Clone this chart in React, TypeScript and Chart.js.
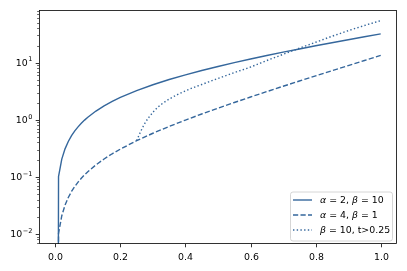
import React, { useEffect, useRef } from "react";
import { Chart, registerables } from "chart.js";

Chart.register(...registerables);

// ---- data ----
const tValues = [0, 0.01, 0.02, 0.03, 0.04, 0.05, 0.06, 0.07, 0.08, 0.09, 0.1, 0.125, 0.15, 0.175, 0.2, 0.25, 0.3, 0.35, 0.4, 0.45, 0.5, 0.55, 0.6, 0.65, 0.7, 0.75, 0.8, 0.85, 0.9, 0.95, 1.0];
// first sample is 0 (clipped on the log axis -> vertical drop)
const solidValues = [1e-30, 0.101, 0.204, 0.309, 0.416, 0.526, 0.637, 0.751, 0.868, 0.986, 1.107, 1.42, 1.749, 2.095, 2.459, 3.244, 4.111, 5.069, 6.128, 7.298, 8.591, 10.02, 11.6, 13.35, 15.28, 17.41, 19.76, 22.37, 25.25, 28.43, 31.95];
const dashedValues = [1e-30, 0.0102, 0.0208, 0.0319, 0.0434, 0.0554, 0.0678, 0.0808, 0.0943, 0.1083, 0.123, 0.162, 0.2055, 0.2534, 0.306, 0.43, 0.58, 0.764, 0.988, 1.262, 1.597, 2.006, 2.506, 3.116, 3.861, 4.771, 5.883, 7.241, 8.9, 10.93, 13.4];
const tDotted = [0.25, 0.26, 0.275, 0.3, 0.325, 0.35, 0.375, 0.4, 0.425, 0.45, 0.5, 0.55, 0.6, 0.65, 0.7, 0.75, 0.8, 0.85, 0.9, 0.95, 1.0];
const dottedValues = [0.43, 0.58, 0.86, 1.35, 1.85, 2.3, 2.75, 3.2, 3.68, 4.15, 5.3, 6.7, 8.4, 10.9, 14.0, 17.9, 22.8, 29.0, 36.3, 44.8, 54.6];
const seriesLabels = ["α = 2, β = 10", "α = 4, β = 1", "β = 10, t>0.25"];
const xTickValues = [0, 0.2, 0.4, 0.6, 0.8, 1.0];
const xTickLabels = ["0.0", "0.2", "0.4", "0.6", "0.8", "1.0"];
const yMajorExponents = [-2, -1, 0, 1];
const X_MIN = -0.05;
const X_MAX = 1.05;
const Y_MIN = 0.00665;
const Y_MAX = 83.8;

const LINE_COLOR = "#35679c";
const FONT = "DejaVu Sans";
const FS = 9.4;

function drawLabelRuns(ctx: CanvasRenderingContext2D, text: string, x: number, y: number) {
  const parts = text.split(/([αβ])/).filter((p) => p.length > 0);
  let cx = x;
  for (const p of parts) {
    const italic = p === "α" || p === "β";
    ctx.font = `${italic ? "italic " : ""}${FS}px "${FONT}"`;
    ctx.fillText(p, cx, y);
    cx += ctx.measureText(p).width;
  }
}

const axesPlugin = {
  id: "mplAxes",
  afterDraw(chart: any) {
    const ctx: CanvasRenderingContext2D = chart.ctx;
    const { left, right, top, bottom } = chart.chartArea;
    const xs = chart.scales.x;
    const ys = chart.scales.y;
    ctx.save();
    // frame
    ctx.strokeStyle = "#000";
    ctx.lineWidth = 0.8;
    ctx.strokeRect(left + 0.5, top + 0.5, right - left - 1, bottom - top - 1);

    // x ticks
    ctx.fillStyle = "#000";
    ctx.textAlign = "center";
    ctx.textBaseline = "alphabetic";
    ctx.font = `${FS}px "${FONT}"`;
    xTickValues.forEach((v, i) => {
      const px = Math.round(xs.getPixelForValue(v)) + 0.5;
      ctx.beginPath();
      ctx.moveTo(px, bottom);
      ctx.lineTo(px, bottom + 3.3);
      ctx.stroke();
      ctx.fillText(xTickLabels[i], px, bottom + 15.5);
    });

    // y ticks (log, major + minor)
    for (let e = -3; e <= 2; e++) {
      for (let m = 1; m <= 9; m++) {
        const v = m * Math.pow(10, e);
        if (v < Y_MIN || v > Y_MAX) continue;
        const py = Math.round(ys.getPixelForValue(v)) + 0.5;
        const len = m === 1 ? 3.3 : 1.9;
        ctx.lineWidth = m === 1 ? 0.8 : 0.6;
        ctx.beginPath();
        ctx.moveTo(left, py);
        ctx.lineTo(left - len, py);
        ctx.stroke();
      }
    }
    // y labels
    ctx.textAlign = "left";
    yMajorExponents.forEach((e) => {
      const py = ys.getPixelForValue(Math.pow(10, e));
      const expText = e < 0 ? "\u2212" + String(-e) : String(e);
      ctx.font = `${FS}px "${FONT}"`;
      const wBase = ctx.measureText("10").width;
      ctx.font = `${FS * 0.7}px "${FONT}"`;
      const wExp = ctx.measureText(expText).width;
      const rightEdge = left - 6.6;
      const x0 = rightEdge - wBase - wExp - 0.5;
      ctx.font = `${FS}px "${FONT}"`;
      ctx.fillText("10", x0, py + 3.5);
      ctx.font = `${FS * 0.7}px "${FONT}"`;
      ctx.fillText(expText, x0 + wBase + 0.5, py - 1.2);
    });

    // legend
    const lx = 290, ly = 191.5, lw = 102, lh = 49;
    ctx.globalAlpha = 0.8;
    ctx.fillStyle = "#fff";
    ctx.beginPath();
    (ctx as any).roundRect(lx + 0.5, ly + 0.5, lw, lh, 2.5);
    ctx.fill();
    ctx.globalAlpha = 1;
    ctx.strokeStyle = "#cccccc";
    ctx.lineWidth = 0.8;
    ctx.stroke();
    chart.data.datasets.forEach((ds: any, i: number) => {
      const ry = 200 + i * 15;
      ctx.strokeStyle = ds.borderColor;
      ctx.lineWidth = ds.borderWidth;
      ctx.setLineDash(ds.borderDash || []);
      ctx.beginPath();
      ctx.moveTo(293, ry);
      ctx.lineTo(312, ry);
      ctx.stroke();
      ctx.setLineDash([]);
      ctx.fillStyle = "#000";
      ctx.textBaseline = "alphabetic";
      drawLabelRuns(ctx, ds.label, 320, ry + 3.4);
    });
    ctx.restore();
  },
};

export default function App() {
  const ref = useRef<HTMLCanvasElement | null>(null);
  useEffect(() => {
    if (!ref.current) return;
    const chart = new Chart(ref.current, {
      type: "line",
      data: {
        datasets: [
          {
            label: seriesLabels[0],
            data: tValues.map((t, i) => ({ x: t, y: solidValues[i] })),
            borderColor: LINE_COLOR,
            borderWidth: 1.4,
            borderDash: [],
            pointRadius: 0,
            fill: false,
            tension: 0,
          },
          {
            label: seriesLabels[1],
            data: tValues.map((t, i) => ({ x: t, y: dashedValues[i] })),
            borderColor: LINE_COLOR,
            borderWidth: 1.4,
            borderDash: [5.2, 2.3],
            pointRadius: 0,
            fill: false,
            tension: 0,
          },
          {
            label: seriesLabels[2],
            data: tDotted.map((t, i) => ({ x: t, y: dottedValues[i] })),
            borderColor: LINE_COLOR,
            borderWidth: 1.4,
            borderDash: [1.4, 2.3],
            borderCapStyle: "butt",
            pointRadius: 0,
            fill: false,
            cubicInterpolationMode: "monotone",
          },
        ],
      } as any,
      options: {
        responsive: false,
        animation: false,
        layout: { padding: { left: 39, top: 10, right: 10, bottom: 27 } },
        scales: {
          x: { type: "linear", min: X_MIN, max: X_MAX, display: false },
          y: { type: "logarithmic", min: Y_MIN, max: Y_MAX, display: false },
        },
        plugins: { legend: { display: false }, tooltip: { enabled: false } },
        events: [],
      } as any,
      plugins: [axesPlugin],
    });
    return () => chart.destroy();
  }, []);
  return (
    <div style={{ position: "fixed", left: 0, top: 0, width: 407, height: 271, background: "#fff" }}>
      <canvas ref={ref} width={407} height={271} style={{ display: "block" }} />
    </div>
  );
}
